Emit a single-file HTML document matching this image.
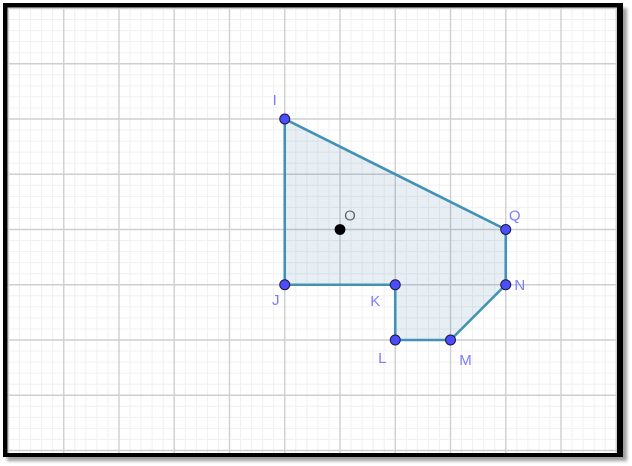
<!DOCTYPE html>
<html lang="en">
<head>
<meta charset="utf-8">
<title>Polygon on grid</title>
<style>
html,body{margin:0;padding:0;background:#fff;width:632px;height:466px;overflow:hidden}
svg{display:block;position:absolute;left:0;top:0}
text{font-family:"Liberation Sans",sans-serif;font-size:15px}
</style>
</head>
<body>
<svg id="chart" width="632" height="466" viewBox="0 0 632 466" xmlns="http://www.w3.org/2000/svg">
  <defs>
    <filter id="blurShadow" x="-5%" y="-5%" width="110%" height="110%"><feGaussianBlur stdDeviation="1.6"/></filter>
  </defs>
  <rect x="7" y="8" width="620" height="453" fill="#000" opacity="0.38" filter="url(#blurShadow)"/>
  <rect x="3" y="3" width="620" height="454" fill="#000"/>
  <rect x="7.5" y="7.5" width="609.5" height="445.5" fill="#fff"/>
  <g id="gridMinor"></g>
  <g id="gridMajor"></g>
  <g id="shapes"></g>
  <g id="points"></g>
</svg>
<script>
var vertexNames = ['I', 'J', 'K', 'L', 'M', 'N', 'Q'];
var vertexX = [-1, -1, 1, 1, 2, 3, 3];
var vertexY = [2, -1, -1, -2, -2, -1, 0];
var centerName = 'O';
var centerX = 0;
var centerY = 0;

var NS = 'http://www.w3.org/2000/svg';
var unit = 55.25;
var originX = 340;
var originY = 229.5;
var left = 7.5, right = 617, top_ = 7.5, bottom = 453;
var labelOffsets = {I:[-10,-14], J:[-9,20], K:[-20,21], L:[-13,23], M:[15,25], N:[14,5], Q:[9,-9], O:[10,-9]};

function sx(v){ return originX + v * unit; }
function sy(v){ return originY - v * unit; }
function make(tag, attrs, parent){
  var el = document.createElementNS(NS, tag);
  for (var k in attrs) el.setAttribute(k, attrs[k]);
  parent.appendChild(el);
  return el;
}

var gMinor = document.getElementById('gridMinor');
var gMajor = document.getElementById('gridMajor');
var i, p, el;
for (i = -30; i <= 30; i++) {
  var gx = sx(i / 5);
  if (gx >= left && gx <= right && i % 5 !== 0) {
    el = make('line', {x1:gx, x2:gx, y1:top_, y2:bottom, stroke:'#f0f0f0', 'stroke-width':1}, gMinor);
    
    
  }
  var gy = sy(i / 5);
  if (gy >= top_ && gy <= bottom && i % 5 !== 0) {
    el = make('line', {x1:left, x2:right, y1:gy, y2:gy, stroke:'#f0f0f0', 'stroke-width':1}, gMinor);
    
    
  }
}
for (i = -6; i <= 6; i++) {
  var mx = sx(i);
  if (mx >= left && mx <= right) {
    el = make('line', {x1:mx, x2:mx, y1:top_, y2:bottom, stroke:'#cfcfcf', 'stroke-width':1.4}, gMajor);
    
    
  }
  var my = sy(i);
  if (my >= top_ && my <= bottom) {
    el = make('line', {x1:left, x2:right, y1:my, y2:my, stroke:'#cfcfcf', 'stroke-width':1.4}, gMajor);
    
    
  }
}

var coords = [];
for (i = 0; i < vertexNames.length; i++) coords.push(sx(vertexX[i]) + ',' + sy(vertexY[i]));
var poly = make('polygon', {points:coords.join(' '), fill:'#1565a0', 'fill-opacity':0.1, stroke:'#4292b5', 'stroke-width':2.6, 'stroke-linejoin':'round'}, document.getElementById('shapes'));



var gPts = document.getElementById('points');
for (i = 0; i < vertexNames.length; i++) {
  p = make('circle', {cx:sx(vertexX[i]), cy:sy(vertexY[i]), r:5, fill:'#4d4dff', stroke:'#1a1a3c', 'stroke-width':1}, gPts);
  
  
  var off = labelOffsets[vertexNames[i]];
  var t = make('text', {x:sx(vertexX[i]) + off[0], y:sy(vertexY[i]) + off[1], fill:'#7d7dff', 'text-anchor':'middle'}, gPts);
  t.textContent = vertexNames[i];
  
  
}
p = make('circle', {cx:sx(centerX), cy:sy(centerY), r:5.4, fill:'#000'}, gPts);


var ot = make('text', {x:sx(centerX) + labelOffsets.O[0], y:sy(centerY) + labelOffsets.O[1], fill:'#666', 'text-anchor':'middle'}, gPts);
ot.textContent = centerName;


</script>
</body>
</html>
